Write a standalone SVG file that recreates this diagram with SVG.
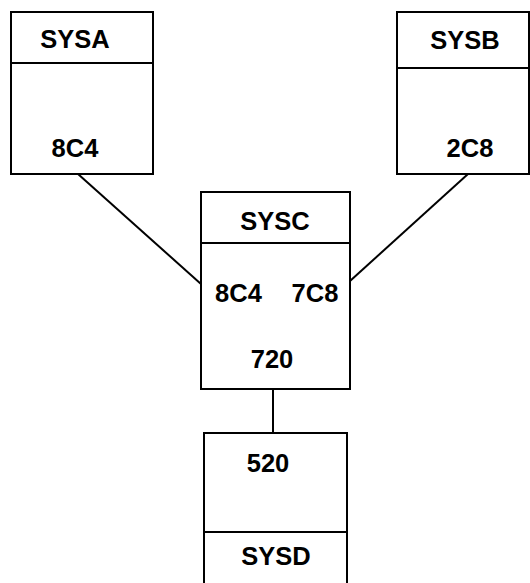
<svg xmlns="http://www.w3.org/2000/svg" width="530" height="583" viewBox="0 0 530 583">
<style>
.box{fill:#fff;stroke:#000;stroke-width:2}
.div{stroke:#000;stroke-width:2}
.conn{stroke:#000;stroke-width:2;fill:none}
text{font-family:"Liberation Sans",Arial,sans-serif;font-weight:bold;font-size:25.5px;text-anchor:middle;fill:#000}
</style>
<rect width="530" height="583" fill="#fff"/>
<g id="connectors">
<line class="conn" x1="78" y1="174" x2="201" y2="284"/>
<line class="conn" x1="468" y1="174" x2="350" y2="281"/>
<line class="conn" x1="273" y1="389" x2="273" y2="433"/>
</g>
<g id="SYSA">
<rect class="box" x="11" y="12" width="142" height="162"/>
<line class="div" x1="11" y1="63" x2="153" y2="63"/>
<text x="75" y="48">SYSA</text>
<text x="75" y="157">8C4</text>
</g>
<g id="SYSB">
<rect class="box" x="397" y="12" width="132" height="162"/>
<line class="div" x1="397" y1="68" x2="529" y2="68"/>
<text x="465" y="49">SYSB</text>
<text x="470" y="157">2C8</text>
</g>
<g id="SYSC">
<rect class="box" x="201" y="192" width="149" height="197"/>
<line class="div" x1="201" y1="243" x2="350" y2="243"/>
<text x="275" y="230">SYSC</text>
<text x="238.5" y="302">8C4</text>
<text x="315" y="302">7C8</text>
<text x="272" y="368">720</text>
</g>
<g id="SYSD">
<rect class="box" x="204" y="433" width="143" height="160"/>
<line class="div" x1="204" y1="532" x2="347" y2="532"/>
<text x="268" y="472">520</text>
<text x="276" y="565">SYSD</text>
</g>
</svg>
